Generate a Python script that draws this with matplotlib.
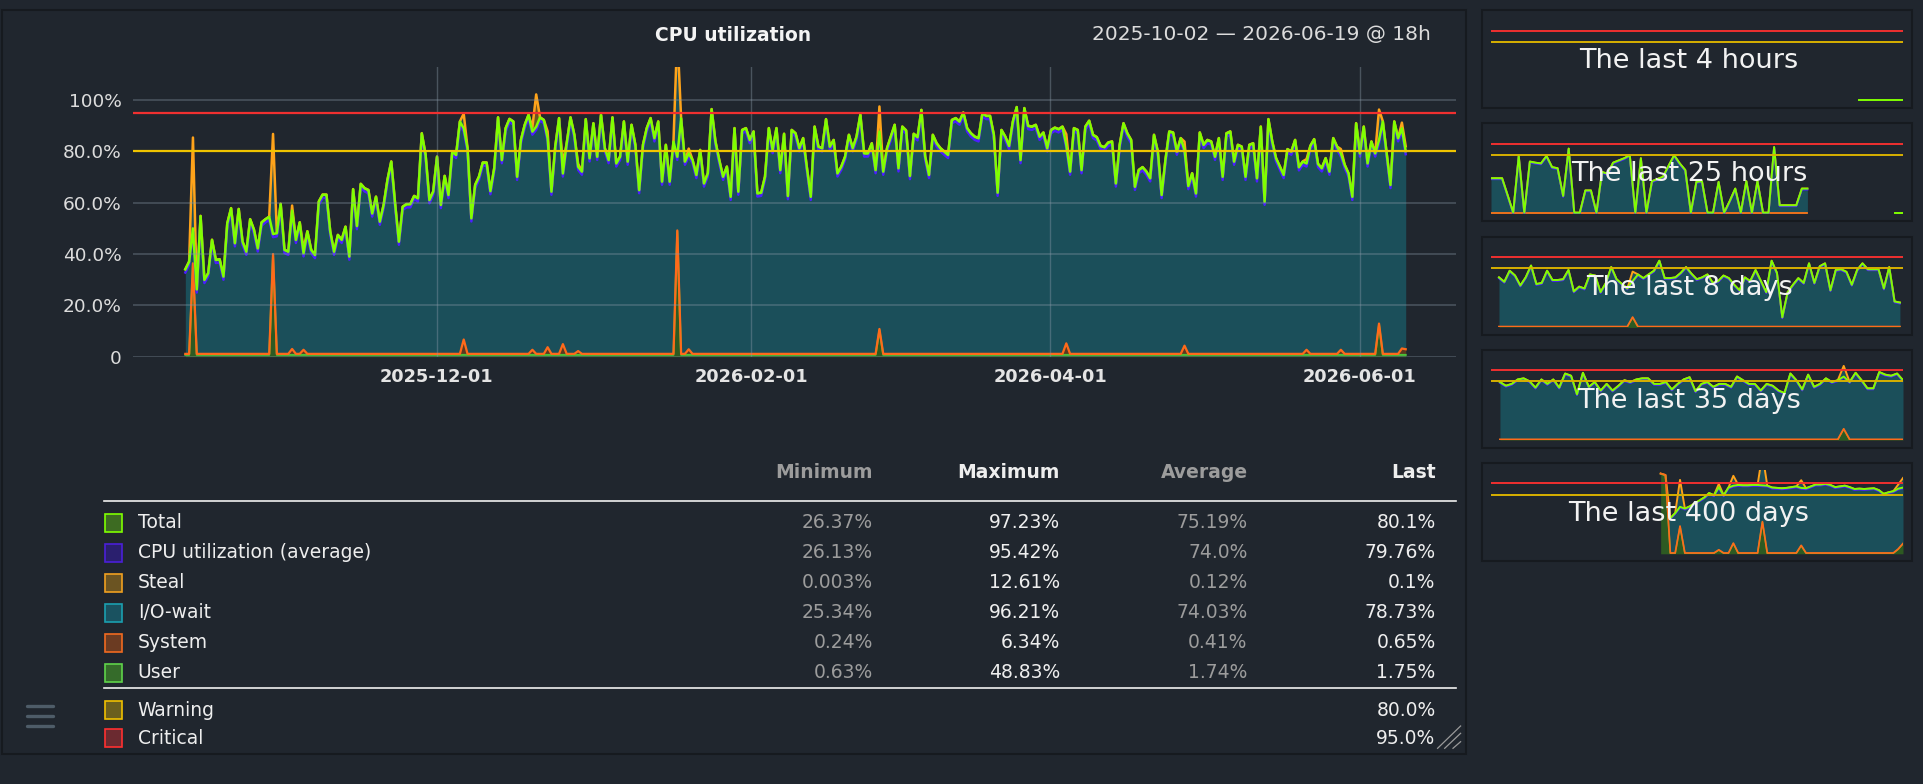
import numpy as np
import pandas as pd
import matplotlib
matplotlib.use("Agg")
import matplotlib.pyplot as plt
from matplotlib.patches import Rectangle
from matplotlib.lines import Line2D

W, H = 1923, 784
BG = "#20262e"
TEAL = "#1b4f5a"
GREEN = "#80ff00"
BLUE = "#4b1fff"
ORANGE = "#ffa31a"
SYS_ORANGE = "#ff6a1a"
USER_GREEN = "#4cc23a"

plt.rcParams["font.family"] = ["DejaVu Sans"]

# ---- main chart data (one value every 18h) ----
start = "2025-10-12 10:00"
end = "2026-06-10 02:00"
total = [
    34.0, 37.0, 50.0, 26.2, 54.8, 29.9, 32.5, 45.5, 37.7, 37.9,
    31.2, 51.9, 57.8, 44.2, 57.5, 44.8, 40.9, 53.5, 49.4, 42.2,
    52.3, 53.5, 54.5, 47.8, 48.1, 59.5, 41.6, 40.9, 56.9, 45.5,
    52.3, 40.3, 48.8, 41.6, 39.6, 60.4, 63.1, 63.1, 48.7, 40.9,
    47.4, 45.5, 50.6, 39.0, 65.2, 50.9, 67.3, 65.6, 64.9, 55.8,
    62.3, 52.6, 59.1, 68.8, 76.0, 59.7, 44.8, 58.4, 59.4, 59.4,
    62.6, 61.7, 87.0, 78.6, 61.0, 64.3, 77.9, 59.1, 70.4, 63.0,
    79.9, 78.6, 91.6, 89.0, 81.2, 53.9, 66.9, 70.1, 75.6, 75.6,
    64.5, 73.4, 93.2, 76.6, 89.0, 92.6, 91.6, 70.1,
    84.4, 90.3, 94.2, 87.7, 89.6, 93.2, 92.2, 85.1, 64.3, 81.8,
    92.9, 71.4, 83.1, 93.2, 86.4, 74.0, 72.1, 92.5, 77.3, 90.9,
    77.9, 94.2, 81.2, 76.6, 93.2, 75.3, 77.9, 91.6, 76.0, 90.3,
    82.5, 64.9, 82.5, 89.0, 92.9, 85.1, 91.6, 68.2, 82.5, 68.2,
    83.8, 77.9, 92.9, 76.0, 79.2, 76.6, 70.8, 80.5, 67.5, 71.4,
    96.4, 83.8, 76.6, 70.1, 74.0, 62.3, 89.0, 64.3, 88.3, 89.0,
    84.4, 87.7, 63.6, 63.9, 70.1, 89.0, 80.5, 89.0, 72.7, 86.8,
    62.6, 88.3, 87.0, 81.2, 85.1, 73.4, 62.3, 89.6, 81.8, 81.2,
    92.5, 81.8, 84.4, 71.4, 74.0, 77.9, 86.4,
    81.2, 85.7, 94.2, 79.2, 79.2, 83.1, 72.7, 87.7, 72.1, 81.2,
    85.7, 90.3, 73.4, 89.6, 88.1, 70.4, 86.8, 85.5, 96.1, 77.9,
    70.8, 86.4, 83.1, 81.2, 79.9, 78.6, 92.2, 92.9, 91.6, 95.1,
    89.0, 87.0, 85.7, 85.1, 94.8, 93.8, 93.8, 86.4, 63.9, 88.3,
    85.7, 82.1, 91.6, 97.2, 76.6, 96.8, 89.9, 89.6, 90.3, 85.7,
    87.3, 81.2, 88.3, 89.2, 88.6, 89.6, 82.5, 72.1, 89.0, 88.3,
    72.7, 89.6, 91.9, 86.4, 85.5, 82.1, 81.6, 83.4, 83.8, 67.5,
    82.5, 90.9, 87.0, 84.4, 66.2, 72.7, 73.8, 72.1, 69.5, 86.4,
    79.9, 63.0, 76.6, 87.7, 87.3, 79.9, 85.1,
    80.5, 66.5, 71.4, 63.6, 87.3, 82.5, 84.4, 83.8, 77.9, 85.1,
    70.1, 87.0, 87.7, 76.0, 82.5, 81.8, 70.1, 82.5, 83.1, 69.5,
    89.6, 60.4, 92.5, 83.8, 77.3, 74.0, 70.8, 80.8, 79.9, 84.4,
    73.8, 76.0, 75.3, 82.1, 84.7, 75.1, 73.4, 77.3, 72.1, 85.1,
    81.8, 79.2, 74.7, 71.4, 62.3, 90.9, 79.2, 89.6, 75.3, 83.8,
    79.2, 84.4, 91.6, 79.2, 66.9, 91.6, 85.1, 89.0, 80.1,
]
# spikes at the bottom (index into total -> percent)
user_spikes = {2: 36.0, 23: 39.6, 129: 48.8, 182: 10.4, 313: 12.5}
system_bumps = {28: 2.3, 31: 2.0, 73: 6.0, 91: 2.0, 95: 3.0, 99: 4.2, 103: 1.5,
                132: 2.2, 231: 4.5, 262: 3.6, 294: 2.0, 303: 2.0, 319: 2.5, 320: 2.2}
steal_spikes = {92: 12.6}
USER_BASE, SYSTEM_BASE, STEAL_BASE = 0.7, 0.4, 0.1

# ---- table ----
series_names = ["Total", "CPU utilization (average)", "Steal", "I/O-wait", "System", "User"]
minimum = ["26.37%", "26.13%", "0.003%", "25.34%", "0.24%", "0.63%"]
maximum = ["97.23%", "95.42%", "12.61%", "96.21%", "6.34%", "48.83%"]
average = ["75.19%", "74.0%", "0.12%", "74.03%", "0.41%", "1.74%"]
last = ["80.1%", "79.76%", "0.1%", "78.73%", "0.65%", "1.75%"]
swatch_fill = ["#3d6b22", "#2a1f6e", "#6b5422", "#1a5260", "#6b3b22", "#356b2a"]
swatch_edge = ["#7fff00", "#4b1fd8", "#f0a020", "#1aa0b0", "#f06a20", "#5fd34a"]
levels = ["Warning", "Critical"]
level_values = [80.0, 95.0]
level_fill = ["#6b5f1e", "#6b2a30"]
level_edge = ["#f0c000", "#ff3030"]

# ---- small panels (The last ...) ----
p2_total = [48, 48, 48, 25, 1.5, 78, 1.5, 70.5, 69, 68, 78, 63, 61.5, 24, 88, 1.5, 1.5,
            31.5, 31.5, 1.5, 56.5, 54, 69, 72, 75, 79, 1.5, 75, 1.5, 44, 47, 50, 65,
            79, 68, 59, 1.5, 43, 44, 1.5, 1.5, 43, 1.5, 17, 34, 1.5, 44, 1.5, 44,
            1.5, 1.5, 90, 11.5, 11.5, 11.5, 11.5, 34, 34]
p3_total = [67.5, 61.5, 76.5, 70, 56.5, 67.5, 83.5, 58.5, 60, 76.5,
            64, 64, 65, 77.5, 48.5, 55, 52.5, 71.5, 70, 47.5,
            60, 81.5, 65, 58.5, 52.5, 62.5, 71.5, 66.5, 71.5, 76.5,
            90, 66.5, 66.5, 67.5, 73.5, 81.5, 72.5, 65, 67.5, 71.5,
            60, 62.5, 70, 66.5, 57.5, 50, 67.5, 62.5, 77.5, 62.5,
            47.5, 90, 73.5, 13.5, 47.5, 57.5, 66.5, 60, 86.5, 60,
            82.5, 86.5, 50, 77.5, 78.5, 75, 57.5, 77.5, 86.5, 78.5,
            78.5, 78.5, 52.5, 81.5, 35, 33.5]
p3_user = {25: 13.5}
p4_total = [78.5, 73.5, 76, 82, 83.5, 79.5, 71, 82, 76, 82, 71, 90, 87, 62, 91, 72,
            78.5, 67, 76, 67, 73.5, 81, 78.5, 82, 83.5, 83.5, 76, 76, 78.5, 68.5,
            76, 82, 85, 66, 76, 78.5, 72, 76, 76, 72, 86, 81, 76, 76, 67, 76, 73.5,
            67, 63.5, 90, 81, 68.5, 88.5, 72, 76, 83.5, 78.5, 81, 86, 78.5, 91, 81,
            70, 70, 92, 88.5, 87, 90, 81]
p4_user = {58: 15}
p5_total = [np.nan, np.nan, 48, 55, 63.5, 61, 64, 68, 72, 76, 82, 79, 90, 79, 89.5,
            92, 93, 92.5, 92.5, 93, 93, 92.5, 92, 89.5, 89, 88.5, 89, 90, 91, 89,
            88.5, 91, 93.5, 93.5, 94.5, 93, 90, 91, 92, 90, 87.5, 88, 87.5, 88,
            88.5, 86, 81, 83, 84.5, 88, 89.5]
p5_user = {0: 108, 1: 106, 4: 37, 12: 5, 15: 14, 21: 43, 29: 11, 49: 6, 50: 13.5}


def box(x0, y0, x1, y1):
    return [x0 / W, 1 - y1 / H, (x1 - x0) / W, (y1 - y0) / H]


def frame(x0, y0, x1, y1):
    fig.patches.append(Rectangle((x0 / W, 1 - y1 / H), (x1 - x0) / W, (y1 - y0) / H,
                                 transform=fig.transFigure, facecolor="none",
                                 edgecolor="#161a1f", lw=1.5))


def draw_cpu(ax, t, tot, usr, sysl, stl, lw):
    tot = np.asarray(tot, float)
    base = np.nan_to_num(tot)
    io = np.clip(base - 1.1, 0, None)
    b1 = usr
    b2 = b1 + sysl
    b3 = b2 + io
    b4 = b3 + stl
    ax.fill_between(t, 0, b1, color="#2d5a22", lw=0)
    ax.fill_between(t, b1, b2, color="#5a3a20", lw=0)
    ax.fill_between(t, b2, b3, color=TEAL, lw=0)
    ax.fill_between(t, b3, b4, color="#6b5422", lw=0)
    ax.plot(t, b4, color=ORANGE, lw=lw)
    ax.plot(t, b1, color=USER_GREEN, lw=lw * 0.8)
    ax.plot(t, b2, color=SYS_ORANGE, lw=lw * 0.9)
    ax.plot(t, tot - 1.2, color=BLUE, lw=lw)
    ax.plot(t, tot, color=GREEN, lw=lw)


fig = plt.figure(figsize=(W / 100, H / 100), dpi=100, facecolor=BG)

# panel frames
frame(1.5, 10, 1466, 754)
mini_tops = [10.4, 123.2, 236.8, 349.6, 463.2]
for yt in mini_tops:
    frame(1482, yt, 1912, yt + 98)

# ---- main chart ----
ax = fig.add_axes(box(132.5, 66.7, 1456, 356.7))
ax.set_facecolor("none")
n = len(total)
times = pd.date_range(start, end, periods=n)
user = np.full(n, USER_BASE)
for i, v in user_spikes.items():
    user[i] = v
system = np.full(n, SYSTEM_BASE)
for i, v in system_bumps.items():
    system[i] = v
steal = np.full(n, STEAL_BASE)
for i, v in steal_spikes.items():
    steal[i] = v

draw_cpu(ax, times, total, user, system, steal, 1.8)

for y in [0, 20, 40, 60, 80, 100]:
    ax.axhline(y, color="#8a9aa8", alpha=0.35, lw=1.3, zorder=3)
month_ticks = pd.to_datetime(["2025-12-01", "2026-02-01", "2026-04-01", "2026-06-01"])
for d in month_ticks:
    ax.axvline(d, color="#8a9aa8", alpha=0.4, lw=1.0, zorder=3)
ax.axhline(80, color="#f0c400", lw=1.6, zorder=4)
ax.axhline(95, color="#f03030", lw=1.6, zorder=4)

ax.set_xlim(pd.Timestamp("2025-10-02"), pd.Timestamp("2026-06-20"))
ax.set_ylim(0, 113)
ax.set_xticks(month_ticks)
ax.set_xticklabels([d.strftime("%Y-%m-%d") for d in month_ticks],
                   fontsize=12.8, fontweight="bold", color="#e4e4e4")
ax.set_yticks([0, 20, 40, 60, 80, 100])
ax.set_yticklabels(["0", "20.0%", "40.0%", "60.0%", "80.0%", "100%"],
                   fontsize=13.3, color="#dcdcdc")
ax.tick_params(axis="both", length=0)
ax.tick_params(axis="y", pad=8)
ax.tick_params(axis="x", pad=8)
for s in ax.spines.values():
    s.set_visible(False)

fig.text(733 / W, 1 - 35.5 / H, "CPU utilization", ha="center", va="center",
         fontsize=13.5, fontweight="bold", color="#f4f4f4")
fig.text(1431 / W, 1 - 34.5 / H, "2025-10-02 \u2014 2026-06-19 @ 18h", ha="right",
         va="center", fontsize=14.5, color="#dcdcdc")

# ---- table ----
GRAY = "#9c9c9c"
WHITE = "#eeeeee"
col_right = [873, 1060, 1247.6, 1435.6]
headers = ["Minimum", "Maximum", "Average", "Last"]
header_colors = [GRAY, WHITE, GRAY, WHITE]
for x, h, c in zip(col_right, headers, header_colors):
    fig.text(x / W, 1 - 472.3 / H, h, ha="right", va="center", fontsize=13.5,
             fontweight="bold", color=c)

for yline in [501.3, 688.3]:
    fig.lines.append(Line2D([104 / W, 1456 / W], [1 - yline / H, 1 - yline / H],
                            transform=fig.transFigure, color="#f0f0f0", lw=1.2))


def swatch(y, fc, ec):
    fig.patches.append(Rectangle((104.5 / W, 1 - (y + 9) / H), 17.5 / W, 18 / H,
                                 transform=fig.transFigure, facecolor=fc,
                                 edgecolor=ec, lw=1.2))


for k, name in enumerate(series_names):
    y = 522.7 + 30 * k
    swatch(y, swatch_fill[k], swatch_edge[k])
    fig.text(137.8 / W, 1 - y / H, name, ha="left", va="center", fontsize=13.5, color=WHITE)
    for x, val, c in zip(col_right, [minimum[k], maximum[k], average[k], last[k]],
                         [GRAY, WHITE, GRAY, WHITE]):
        fig.text(x / W, 1 - y / H, val, ha="right", va="center", fontsize=13.5, color=c)

for k, name in enumerate(levels):
    y = 710 + 28.3 * k
    swatch(y, level_fill[k], level_edge[k])
    fig.text(137.8 / W, 1 - y / H, name, ha="left", va="center", fontsize=13.5, color=WHITE)
    fig.text(col_right[3] / W, 1 - y / H, f"{level_values[k]:.1f}%", ha="right",
             va="center", fontsize=13.5, color=WHITE)

# hamburger icon
for yb in [706, 716, 725.5]:
    fig.lines.append(Line2D([27 / W, 52.5 / W], [1 - yb / H, 1 - yb / H],
                            transform=fig.transFigure, color="#4e5c68", lw=2.4,
                            solid_capstyle="round"))
# resize handle
for (xa, xb, ya) in [(1437.6, 1460.6, 726), (1444.7, 1460.6, 733.3), (1453, 1460.6, 741.7)]:
    fig.lines.append(Line2D([xa / W, xb / W], [1 - 748.3 / H, 1 - ya / H],
                            transform=fig.transFigure, color="#9a9a9a", lw=0.9))

# ---- mini panels ----
mini_labels = ["The last 4 hours", "The last 25 hours", "The last 8 days",
               "The last 35 days", "The last 400 days"]
mini_text_y = [61, 173.9, 287.8, 400.7, 514.2]
windows = [4, 25, 8, 35, 400]
PX_PER_PCT = 0.74


def mini_axes(k):
    y0 = mini_tops[k] + 90.6
    a = fig.add_axes(box(1491, y0 - 113 * PX_PER_PCT, 1903, y0))
    a.set_facecolor("none")
    a.set_xlim(0, windows[k])
    a.set_ylim(0, 113)
    a.axis("off")
    return a


def mini_stack(a, t, tot, spikes):
    m = len(tot)
    usr = np.full(m, USER_BASE)
    for i, v in spikes.items():
        usr[i] = v
    draw_cpu(a, t, tot, usr, np.full(m, SYSTEM_BASE), np.full(m, STEAL_BASE), 1.4)


# 4 hours: only a short flat piece at the end
a1 = mini_axes(0)
a1.plot([3.57, 4.0], [1.5, 1.5], color=GREEN, lw=1.4)
# 25 hours
a2 = mini_axes(1)
mini_stack(a2, np.linspace(0, 19.2, len(p2_total)), p2_total, {})
a2.plot([24.5, 25.0], [1.0, 1.0], color=GREEN, lw=1.4)
# 8 days
a3 = mini_axes(2)
mini_stack(a3, np.linspace(0.155, 7.94, len(p3_total)), p3_total, p3_user)
# 35 days
a4 = mini_axes(3)
mini_stack(a4, np.linspace(0.76, 35, len(p4_total)), p4_total, p4_user)
# 400 days
a5 = mini_axes(4)
mini_stack(a5, np.linspace(164.7, 400, len(p5_total)), p5_total, p5_user)

for k, a in enumerate([a1, a2, a3, a4, a5]):
    a.axhline(95, color="#f03030", lw=1.4)
    a.axhline(80, color="#d8b000", lw=1.4)
    fig.text(1689 / W, 1 - mini_text_y[k] / H, mini_labels[k], ha="center",
             va="center", fontsize=19.5, color="#f2f2f2", zorder=10)

fig.savefig("out.png", dpi=100, facecolor=BG)
